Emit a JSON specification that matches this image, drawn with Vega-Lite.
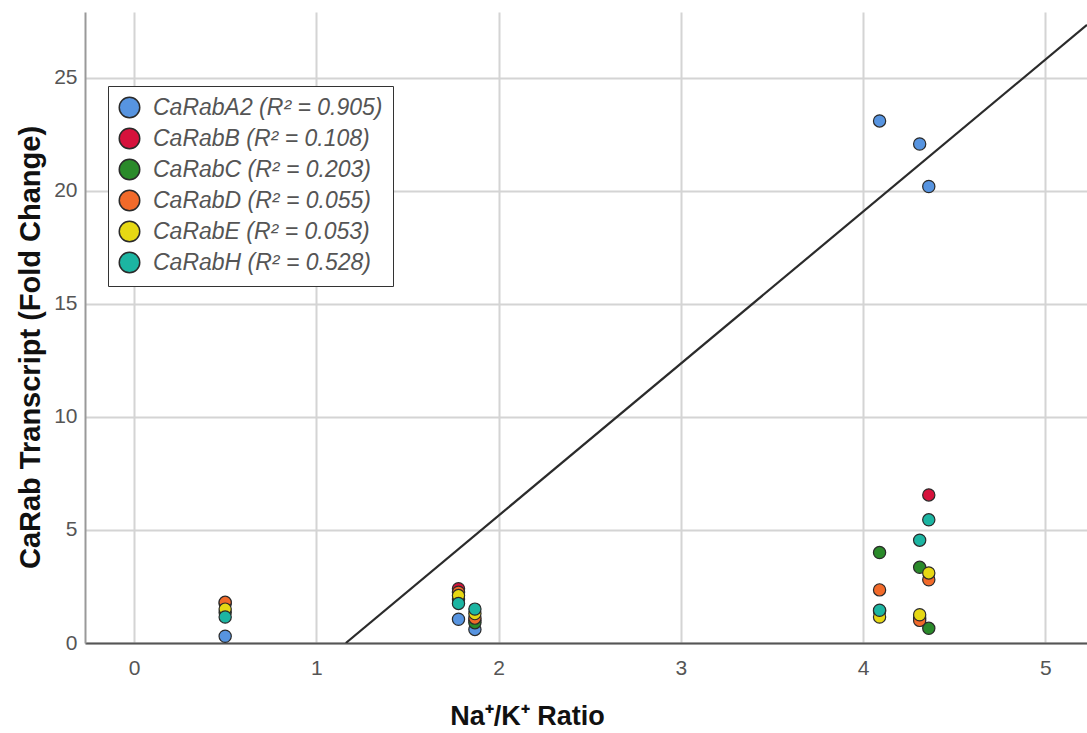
{
  "$schema": "https://vega.github.io/schema/vega-lite/v6.json",
  "width": 1002,
  "height": 631,
  "autosize": {"type": "none"},
  "padding": {"left": 85, "top": 12, "right": 0, "bottom": 90},
  "background": "white",
  "config": {
    "view": {"stroke": null},
    "axis": {
      "labelFont": "Liberation Sans Narrow, Liberation Sans",
      "labelFontSize": 21,
      "labelColor": "#555555",
      "gridColor": "#d4d4d4",
      "gridWidth": 2,
      "ticks": false,
      "titleFont": "Liberation Sans Narrow, Liberation Sans",
      "titleFontWeight": "bold",
      "titleColor": "#111111",
      "titleFontSize": 27
    }
  },
  "datasets": {
    "points": [
      {"gene": "CaRabA2 (R² = 0.905)", "ratio": 0.5, "fold": 0.3},
      {"gene": "CaRabA2 (R² = 0.905)", "ratio": 1.78, "fold": 1.05},
      {"gene": "CaRabA2 (R² = 0.905)", "ratio": 1.87, "fold": 0.6},
      {"gene": "CaRabA2 (R² = 0.905)", "ratio": 4.09, "fold": 23.1},
      {"gene": "CaRabA2 (R² = 0.905)", "ratio": 4.31, "fold": 22.08},
      {"gene": "CaRabA2 (R² = 0.905)", "ratio": 4.36, "fold": 20.2},
      {"gene": "CaRabB (R² = 0.108)", "ratio": 0.5, "fold": 1.75},
      {"gene": "CaRabB (R² = 0.108)", "ratio": 1.78, "fold": 2.4},
      {"gene": "CaRabB (R² = 0.108)", "ratio": 1.87, "fold": 1.0},
      {"gene": "CaRabB (R² = 0.108)", "ratio": 4.09, "fold": 1.4},
      {"gene": "CaRabB (R² = 0.108)", "ratio": 4.31, "fold": 1.1},
      {"gene": "CaRabB (R² = 0.108)", "ratio": 4.36, "fold": 6.55},
      {"gene": "CaRabC (R² = 0.203)", "ratio": 0.5, "fold": 1.35},
      {"gene": "CaRabC (R² = 0.203)", "ratio": 1.78, "fold": 1.95},
      {"gene": "CaRabC (R² = 0.203)", "ratio": 1.87, "fold": 0.9},
      {"gene": "CaRabC (R² = 0.203)", "ratio": 4.09, "fold": 4.0},
      {"gene": "CaRabC (R² = 0.203)", "ratio": 4.31, "fold": 3.35},
      {"gene": "CaRabC (R² = 0.203)", "ratio": 4.36, "fold": 0.65},
      {"gene": "CaRabD (R² = 0.055)", "ratio": 0.5, "fold": 1.8},
      {"gene": "CaRabD (R² = 0.055)", "ratio": 1.78, "fold": 2.25},
      {"gene": "CaRabD (R² = 0.055)", "ratio": 1.87, "fold": 1.1},
      {"gene": "CaRabD (R² = 0.055)", "ratio": 4.09, "fold": 2.35},
      {"gene": "CaRabD (R² = 0.055)", "ratio": 4.31, "fold": 1.0},
      {"gene": "CaRabD (R² = 0.055)", "ratio": 4.36, "fold": 2.8},
      {"gene": "CaRabE (R² = 0.053)", "ratio": 0.5, "fold": 1.5},
      {"gene": "CaRabE (R² = 0.053)", "ratio": 1.78, "fold": 2.1},
      {"gene": "CaRabE (R² = 0.053)", "ratio": 1.87, "fold": 1.3},
      {"gene": "CaRabE (R² = 0.053)", "ratio": 4.09, "fold": 1.15},
      {"gene": "CaRabE (R² = 0.053)", "ratio": 4.31, "fold": 1.25},
      {"gene": "CaRabE (R² = 0.053)", "ratio": 4.36, "fold": 3.1},
      {"gene": "CaRabH (R² = 0.528)", "ratio": 0.5, "fold": 1.15},
      {"gene": "CaRabH (R² = 0.528)", "ratio": 1.78, "fold": 1.75},
      {"gene": "CaRabH (R² = 0.528)", "ratio": 1.87, "fold": 1.5},
      {"gene": "CaRabH (R² = 0.528)", "ratio": 4.09, "fold": 1.45},
      {"gene": "CaRabH (R² = 0.528)", "ratio": 4.31, "fold": 4.55},
      {"gene": "CaRabH (R² = 0.528)", "ratio": 4.36, "fold": 5.45}
    ],
    "fit": [
      {"ratio": 1.162, "fold": 0},
      {"ratio": 5.228, "fold": 27.35}
    ]
  },
  "layer": [
    {
      "data": {"name": "fit"},
      "mark": {"type": "line", "color": "#2b2b2b", "strokeWidth": 2.2, "clip": true},
      "encoding": {
        "x": {
          "field": "ratio", "type": "quantitative",
          "scale": {"domain": [-0.269, 5.228], "nice": false, "zero": false},
          "axis": {
            "values": [0, 1, 2, 3, 4, 5],
            "format": "d",
            "title": "Na⁺/K⁺ Ratio",
            "labelPadding": 14,
            "domainColor": "#555555",
            "domainWidth": 2,
            "titleX": 442,
            "titleY": 73,
            "titleAlign": "center",
            "titleBaseline": "middle",
            "titleAnchor": null
          }
        },
        "y": {
          "field": "fold", "type": "quantitative",
          "scale": {"domain": [0, 27.92], "nice": false},
          "axis": {
            "values": [0, 5, 10, 15, 20, 25],
            "format": "d",
            "title": "CaRab Transcript (Fold Change)",
            "titleFontSize": 29,
            "labelPadding": 8,
            "domainColor": "#999999",
            "domainWidth": 2,
            "titleX": -55,
            "titleY": 335,
            "titleAngle": -90,
            "titleAlign": "center",
            "titleBaseline": "middle",
            "titleAnchor": null
          }
        }
      }
    },
    {
      "data": {"name": "points"},
      "mark": {"type": "point", "shape": "circle", "filled": true, "size": 150, "stroke": "#2a2a2a", "strokeWidth": 1.2, "opacity": 1},
      "encoding": {
        "x": {"field": "ratio", "type": "quantitative"},
        "y": {"field": "fold", "type": "quantitative"},
        "color": {
          "field": "gene", "type": "nominal",
          "scale": {
            "domain": ["CaRabA2 (R² = 0.905)", "CaRabB (R² = 0.108)", "CaRabC (R² = 0.203)", "CaRabD (R² = 0.055)", "CaRabE (R² = 0.053)", "CaRabH (R² = 0.528)"],
            "range": ["#5794e0", "#d6123c", "#2a8a2a", "#f26a2a", "#e6d814", "#1cb5a2"]
          },
          "legend": {
            "title": null,
            "orient": "none",
            "legendX": 23,
            "legendY": 74,
            "symbolType": "circle",
            "symbolSize": 420,
            "symbolStrokeColor": "#2a2a2a",
            "symbolStrokeWidth": 1.5,
            "symbolOpacity": 1,
            "labelFont": "Liberation Sans Narrow, Liberation Sans",
            "labelFontStyle": "italic",
            "labelFontSize": 23,
            "labelColor": "#555555",
            "labelOffset": 12,
            "labelLimit": 400,
            "rowPadding": 4,
            "padding": 10,
            "strokeColor": "#333333",
            "fillColor": "white"
          }
        }
      }
    }
  ]
}
